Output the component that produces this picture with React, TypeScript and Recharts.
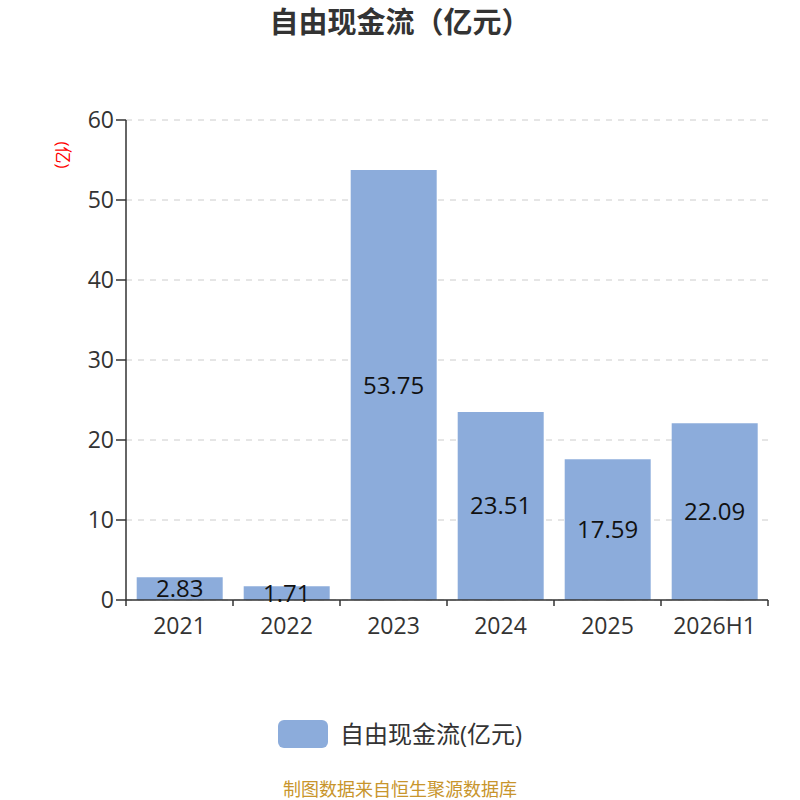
import React from 'react';
import { BarChart, Bar, XAxis, YAxis, CartesianGrid, LabelList } from 'recharts';

const categories = ['2021', '2022', '2023', '2024', '2025', '2026H1'];
const freeCashFlow = [2.83, 1.71, 53.75, 23.51, 17.59, 22.09];
const yTicks = [0, 10, 20, 30, 40, 50, 60];

const data = categories.map((year, i) => ({ year, value: freeCashFlow[i] }));

const FONT = "'Open Sans', 'Noto Sans CJK SC', sans-serif";
const BAR_COLOR = '#8cacdb';
const PLOT_LEFT = 126;
const PLOT_RIGHT = 32;
const BAND = (800 - PLOT_LEFT - PLOT_RIGHT) / categories.length;

const XTick = (props: any) => {
  const { x, y, payload, index } = props;
  const half = BAND / 2;
  return (
    <g>
      <line x1={x - half} y1={y - 8} x2={x - half} y2={y - 2} stroke="#333" strokeWidth={1.5} />
      {index === categories.length - 1 && (
        <line x1={x + half} y1={y - 8} x2={x + half} y2={y - 2} stroke="#333" strokeWidth={1.5} />
      )}
      <text x={x} y={y + 26} textAnchor="middle" fill="#333" fontSize={23} fontFamily={FONT}>
        {payload.value}
      </text>
    </g>
  );
};

export default function App() {
  return (
    <div style={{ position: 'absolute', left: 0, top: 0, width: 800, height: 800, background: '#fff', fontFamily: FONT, overflow: 'hidden' }}>
      <div style={{ position: 'absolute', top: 0, width: 800, textAlign: 'center', fontSize: 29, lineHeight: '44px', fontWeight: 'bold', color: '#333' }}>
        自由现金流（亿元）
      </div>
      <BarChart
        width={800}
        height={800}
        data={data}
        margin={{ top: 120, right: PLOT_RIGHT, left: PLOT_LEFT - 60, bottom: 160 }}
        barCategoryGap="10%"
      >
        <CartesianGrid vertical={false} strokeDasharray="6 6" stroke="#ccc" />
        <XAxis
          dataKey="year"
          height={40}
          axisLine={{ stroke: '#333', strokeWidth: 1.5 }}
          tickLine={false}
          tick={<XTick />}
          interval={0}
        />
        <YAxis
          width={60}
          domain={[0, 60]}
          ticks={yTicks}
          axisLine={{ stroke: '#333', strokeWidth: 1.5 }}
          tickLine={{ stroke: '#333', strokeWidth: 1.5 }}
          tickSize={10}
          tick={{ fill: '#333', fontSize: 23, fontFamily: FONT }}
          label={(p: any) => {
            const vb = p.viewBox;
            return (
              <text
                x={vb.x - 3}
                y={vb.y + 35}
                fill="#ff0000"
                fontSize={17}
                fontFamily={FONT}
                textAnchor="middle"
                transform={`rotate(90 ${vb.x - 3} ${vb.y + 35})`}
                dominantBaseline="central"
              >
                (亿)
              </text>
            );
          }}
        />
        <Bar dataKey="value" fill={BAR_COLOR} isAnimationActive={false}>
          <LabelList dataKey="value" position="center" fill="#111" fontSize={24} fontFamily={FONT} />
        </Bar>
      </BarChart>
      <div style={{ position: 'absolute', top: 720, left: 278, display: 'flex', alignItems: 'center' }}>
        <div style={{ width: 50, height: 28, borderRadius: 6, background: BAR_COLOR }} />
        <span style={{ marginLeft: 12, fontSize: 24, color: '#333', lineHeight: '28px' }}>自由现金流(亿元)</span>
      </div>
      <div style={{ position: 'absolute', top: 779, width: 800, textAlign: 'center', fontSize: 18, lineHeight: '20px', color: '#c8952c' }}>
        制图数据来自恒生聚源数据库
      </div>
    </div>
  );
}
